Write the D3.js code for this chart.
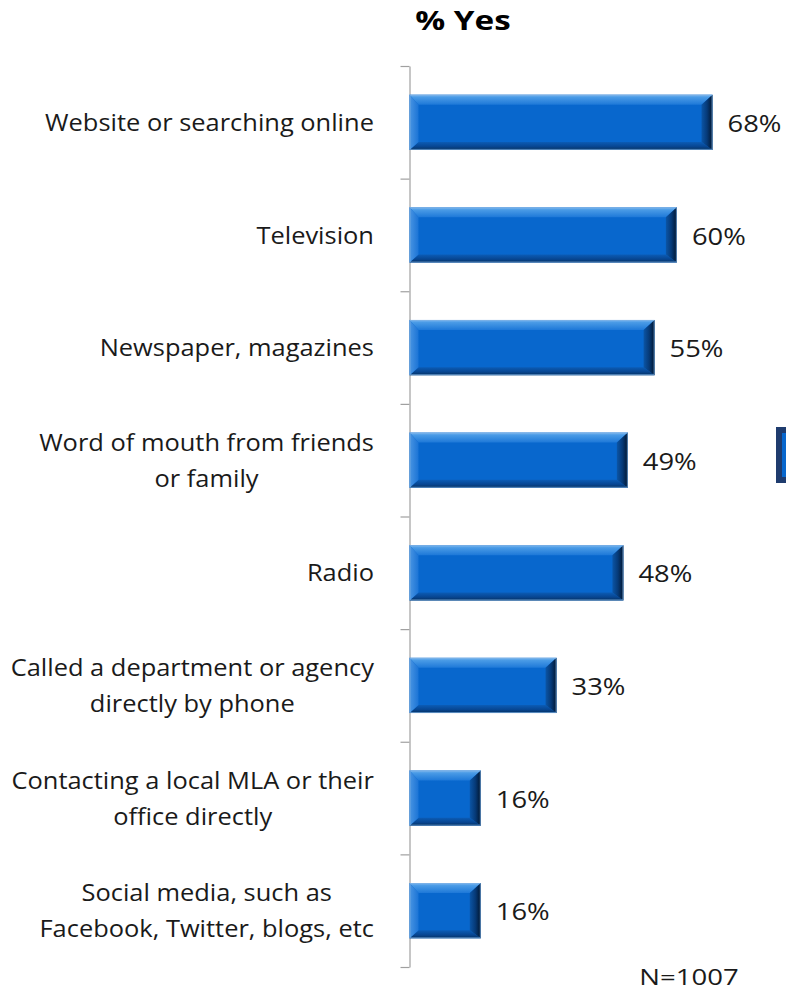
<!DOCTYPE html>
<html>
<head>
<meta charset="utf-8">
<script src="https://cdn.jsdelivr.net/npm/d3@7"></script>
<style>
  html, body { margin: 0; padding: 0; background: #ffffff; }
  svg { display: block; }
</style>
</head>
<body>
<svg id="chart" width="786" height="990"></svg>
<script>
// Survey responses: where people look for government information
const categories = [
  "Website or searching online",
  "Television",
  "Newspaper, magazines",
  "Word of mouth from friends\nor family",
  "Radio",
  "Called a department or agency\ndirectly by phone",
  "Contacting a local MLA or their\noffice directly",
  "Social media, such as\nFacebook, Twitter, blogs, etc"
];
const pctYes = [68, 60, 55, 49, 48, 33, 16, 16];
const titleText = "% Yes";
const sampleNote = "N=1007";

const svg = d3.select("#chart");
const FONT = "'Open Sans', 'Liberation Sans', sans-serif";
const INK = "#1a1a1a";

const plotLeft = 409.5, plotRight = 766, plotTop = 66, plotBottom = 967;

const x = d3.scaleLinear().domain([0, 80]).range([plotLeft, plotRight]);
const y = d3.scaleBand()
  .domain(categories)
  .range([plotTop, plotBottom])
  .paddingInner(0.51)
  .paddingOuter(0.255);

// gradients for the bevelled bar faces
const defs = svg.append("defs");
function grad(id, x2, y2, stops) {
  const g = defs.append("linearGradient").attr("id", id)
    .attr("x1", 0).attr("y1", 0).attr("x2", x2).attr("y2", y2);
  stops.forEach(([o, c]) => g.append("stop").attr("offset", o).attr("stop-color", c));
}
grad("bevTop", 0, 1, [[0, "#7db8f0"], [0.25, "#4a9be6"], [1, "#1d78d8"]]);
grad("bevBottom", 0, 1, [[0, "#0b5cb6"], [0.6, "#074590"], [1, "#05305f"]]);
grad("bevLeft", 1, 0, [[0, "#4a95e2"], [1, "#1b74d6"]]);
grad("bevRight", 1, 0, [[0, "#0b55a6"], [0.5, "#063a78"], [1, "#01152e"]]);

// category axis with ticks at band boundaries
const boundary = d3.scaleLinear().domain([0, categories.length]).range([plotTop, plotBottom]);
const axisG = svg.append("g")
  .attr("transform", `translate(${plotLeft},0)`)
  .call(d3.axisLeft(boundary)
    .tickValues(d3.range(0, categories.length + 1))
    .tickFormat("")
    .tickSize(9)
    .tickSizeOuter(0));
axisG.select(".domain").attr("stroke", "#a0a0a0").attr("stroke-width", 1.2);
axisG.selectAll(".tick line").attr("stroke", "#a0a0a0").attr("stroke-width", 1.2);

// bevelled bars
const bl = 9, br = 11, bt = 10, bb = 8;
const bars = svg.append("g").selectAll("g.bar")
  .data(categories.map((c, i) => ({ c, v: pctYes[i] })))
  .join("g").attr("class", "bar");

bars.each(function (d) {
  const g = d3.select(this);
  const x0 = x(0), x1 = x(d.v), y0 = y(d.c), y1 = y(d.c) + y.bandwidth();
  const pts = a => a.map(p => p.join(",")).join(" ");
  g.append("rect").attr("x", x0).attr("y", y0)
    .attr("width", x1 - x0).attr("height", y1 - y0).attr("fill", "#0867cd");
  g.append("polygon").attr("fill", "url(#bevTop)")
    .attr("points", pts([[x0, y0], [x1, y0], [x1 - br, y0 + bt], [x0 + bl, y0 + bt]]));
  g.append("polygon").attr("fill", "url(#bevBottom)")
    .attr("points", pts([[x0, y1], [x1, y1], [x1 - br, y1 - bb], [x0 + bl, y1 - bb]]));
  g.append("polygon").attr("fill", "url(#bevLeft)")
    .attr("points", pts([[x0, y0], [x0 + bl, y0 + bt], [x0 + bl, y1 - bb], [x0, y1]]));
  g.append("polygon").attr("fill", "url(#bevRight)")
    .attr("points", pts([[x1, y0], [x1 - br, y0 + bt], [x1 - br, y1 - bb], [x1, y1]]));
  g.append("rect").attr("x", x0 + 0.5).attr("y", y0 + 0.5)
    .attr("width", x1 - x0 - 1).attr("height", y1 - y0 - 1)
    .attr("fill", "none").attr("stroke", "#7eb0e4").attr("stroke-width", 1).attr("stroke-opacity", 0.7);
});

// value labels (slightly widened type)
const valSX = 1.14;
bars.append("text")
  .attr("transform", d => `translate(${x(d.v) + 15},${y(d.c) + y.bandwidth() / 2 + 1}) scale(${valSX},1)`)
  .attr("dy", "0.36em")
  .attr("font-family", FONT).attr("font-size", 24)
  .attr("fill", INK)
  .text(d => d.v + "%");

// category labels: lines centred on each other, block right-aligned to the axis
const labSX = 1.06, labRight = 374, lineH = 36;
const labelG = svg.append("g");
categories.forEach(c => {
  const lines = c.split("\n");
  const cy = y(c) + y.bandwidth() / 2;
  const g = labelG.append("g");
  const t = g.append("text")
    .attr("text-anchor", "middle")
    .attr("font-family", FONT).attr("font-size", 24)
    .attr("fill", INK);
  const spans = lines.map((ln, i) => t.append("tspan")
    .attr("x", 0)
    .attr("y", (i - (lines.length - 1) / 2) * lineH)
    .attr("dy", "0.36em")
    .text(ln));
  const maxW = d3.max(spans, s => s.node().getComputedTextLength());
  g.attr("transform", `translate(${labRight - maxW * labSX / 2},${cy}) scale(${labSX},1)`);
});

// title
svg.append("text")
  .attr("transform", "translate(463,21) scale(1.28,1)")
  .attr("dy", "0.36em")
  .attr("text-anchor", "middle")
  .attr("font-family", FONT).attr("font-weight", "bold").attr("font-size", 26)
  .attr("fill", "#000")
  .text(titleText);

// sample size note
svg.append("text")
  .attr("transform", "translate(689,977) scale(1.25,1)")
  .attr("dy", "0.36em")
  .attr("text-anchor", "middle")
  .attr("font-family", FONT).attr("font-size", 22)
  .attr("fill", INK)
  .text(sampleNote);

// legend swatch at the right edge
svg.append("rect")
  .attr("x", 779).attr("y", 430)
  .attr("width", 20).attr("height", 50)
  .attr("fill", "#0867cd")
  .attr("stroke", "#1f3c6e").attr("stroke-width", 6);
</script>
</body>
</html>
